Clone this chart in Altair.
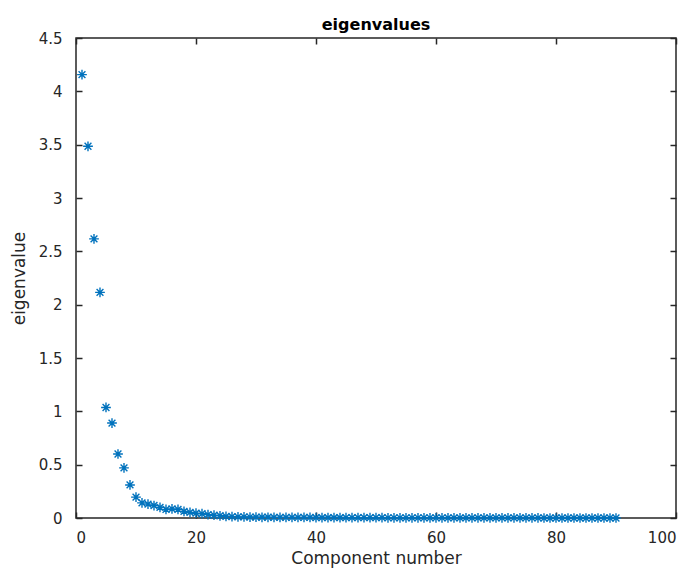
import altair as alt
import pandas as pd

components = list(range(1, 91))
eigenvalues = [
    4.157, 3.485, 2.617, 2.115, 1.036, 0.890, 0.600, 0.470, 0.310, 0.196,
    0.142, 0.130, 0.117, 0.100, 0.080, 0.085, 0.080, 0.062, 0.052, 0.045,
    0.040, 0.032, 0.026, 0.021, 0.016, 0.013, 0.011, 0.010, 0.009, 0.008,
    0.007, 0.007, 0.006, 0.006, 0.006, 0.005, 0.005, 0.005, 0.005, 0.004,
    0.004, 0.004, 0.004, 0.004, 0.003, 0.003, 0.003, 0.003, 0.003, 0.003,
    0.003, 0.002, 0.002, 0.002, 0.002, 0.002, 0.002, 0.002, 0.002, 0.002,
    0.002, 0.001, 0.001, 0.001, 0.001, 0.001, 0.001, 0.001, 0.001, 0.001,
    0.001, 0.001, 0.001, 0.001, 0.001, 0.001, 0.001, 0.000, 0.000, 0.000,
    0.000, 0.000, 0.000, 0.000, 0.000, 0.000, 0.000, 0.000, 0.000, 0.000,
]
x_ticks = [0, 20, 40, 60, 80, 100]
y_ticks = [0, 0.5, 1, 1.5, 2, 2.5, 3, 3.5, 4, 4.5]

df = pd.DataFrame({"component": components, "eigenvalue": eigenvalues})

FONT = "DejaVu Sans"
TXT = "#262626"
ASTERISK = "M-1,0H1M0,-1V1M-0.7,-0.7L0.7,0.7M-0.7,0.7L0.7,-0.7"

xscale = alt.Scale(domain=[0, 100], nice=False, zero=False)
yscale = alt.Scale(domain=[0, 4.5], nice=False)

tick_style = dict(grid=False, domain=False, tickSize=6, offset=-6,
                  tickColor=TXT, tickWidth=1.5)

common_axis = dict(
    labelFont=FONT, labelFontSize=15, labelColor=TXT,
    titleFont=FONT, titleFontSize=17, titleColor=TXT, titleFontWeight="normal",
    **tick_style,
)

base = alt.Chart(df)

points = base.mark_point(
    shape=ASTERISK, filled=False, size=95, strokeWidth=1.4, color="#0072BD", opacity=1
).encode(
    x=alt.X("component:Q", scale=xscale,
            axis=alt.Axis(orient="bottom", values=x_ticks, format="d",
                          title="Component number", labelPadding=12, titlePadding=5,
                          **common_axis)),
    y=alt.Y("eigenvalue:Q", scale=yscale,
            axis=alt.Axis(orient="left", values=y_ticks, format="~g",
                          title="eigenvalue", labelPadding=14, titlePadding=10,
                          **common_axis)),
)

frame = base.mark_point(opacity=0).encode(
    x=alt.X("component:Q", scale=xscale,
            axis=alt.Axis(orient="top", values=x_ticks, labels=False, title=None,
                          **tick_style)),
    y=alt.Y("eigenvalue:Q", scale=yscale,
            axis=alt.Axis(orient="right", values=y_ticks, labels=False, title=None,
                          **tick_style)),
)

chart = alt.layer(frame, points).resolve_axis(
    x="independent", y="independent"
).properties(
    width=600, height=480,
    title=alt.TitleParams("eigenvalues", font=FONT, fontSize=16, fontWeight="bold",
                          color="#000000", offset=-2),
    autosize=alt.AutoSizeParams(type="none"),
    padding={"left": 68, "top": 30, "right": 13, "bottom": 52},
    view=alt.ViewBackground(stroke=TXT, strokeWidth=1.5),
).configure(background="white")

chart.save("out.html", embed_options={"renderer": "svg", "actions": False})
